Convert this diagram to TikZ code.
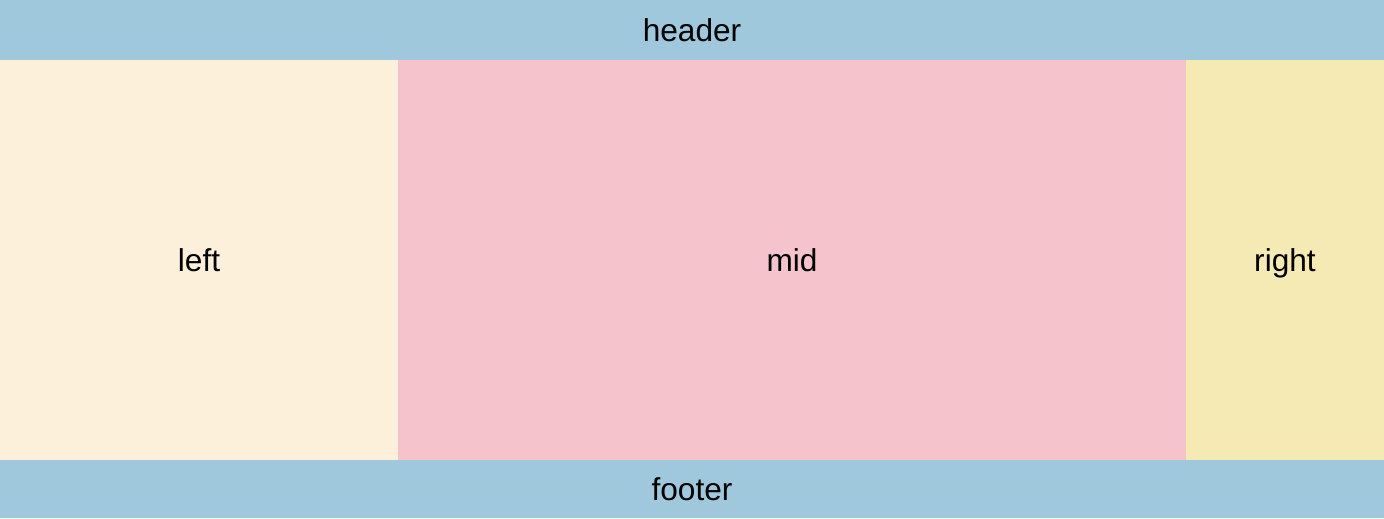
\documentclass[tikz,border=0pt]{standalone}
\usepackage{fontspec}
\setmainfont{Liberation Sans}
\definecolor{barblue}{HTML}{A0C8DC}
\definecolor{leftcream}{HTML}{FCF0DA}
\definecolor{midpink}{HTML}{F4C3CC}
\definecolor{rightyellow}{HTML}{F5EAB4}
\tikzset{
  block/.style={rectangle, inner sep=0pt, outer sep=0pt, text height=13.5pt, text depth=0pt, font=\fontsize{18}{21}\selectfont}
}
\begin{document}
\begin{tikzpicture}
    \useasboundingbox (0,0) rectangle (27.68,-10.36);
    \node[block, fill=barblue, minimum width=27.68cm, minimum height=1.2cm] (header) at (13.84,-0.6) {header};
    \node[block, fill=leftcream, minimum width=7.96cm, minimum height=8cm] (left) at (3.98,-5.2) {left};
    \node[block, fill=midpink, minimum width=15.76cm, minimum height=8cm] (mid) at (15.84,-5.2) {mid};
    \node[block, fill=rightyellow, minimum width=3.96cm, minimum height=8cm] (right) at (25.70,-5.2) {right};
    \node[block, fill=barblue, minimum width=27.68cm, minimum height=1.16cm] (footer) at (13.84,-9.78) {footer};
\end{tikzpicture}
\end{document}
